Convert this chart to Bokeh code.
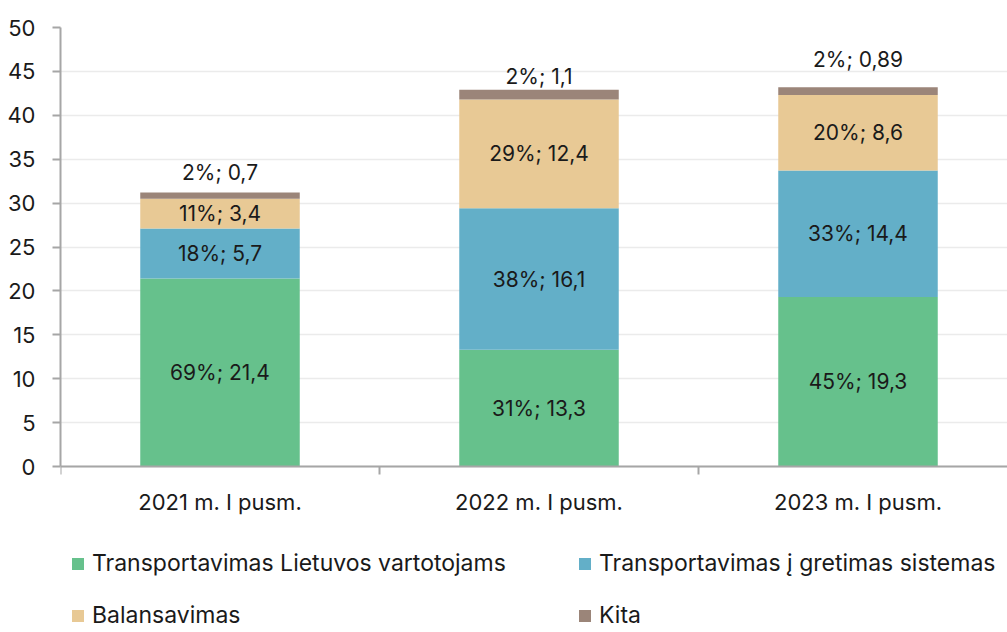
from bokeh.plotting import figure
from bokeh.models import (ColumnDataSource, Range1d, FixedTicker, Legend, LegendItem, Span)
from bokeh.core.properties import value
from bokeh.embed import file_html
from bokeh.resources import INLINE

categories = ["2021 m. I pusm.", "2022 m. I pusm.", "2023 m. I pusm."]
series_names = ["Transportavimas Lietuvos vartotojams", "Transportavimas į gretimas sistemas",
                "Balansavimas", "Kita"]
lt_consumers = [21.4, 13.3, 19.3]
neighbours = [5.7, 16.1, 14.4]
balancing = [3.4, 12.4, 8.6]
other = [0.7, 1.1, 0.89]
pct_lt = [69, 31, 45]
pct_nb = [18, 38, 33]
pct_bal = [11, 29, 20]
pct_other = [2, 2, 2]
y_ticks = [0, 5, 10, 15, 20, 25, 30, 35, 40, 45, 50]

colors = ["#66c18c", "#63afc8", "#e8c995", "#9b8579"]
AXIS = "#a6a6a6"
FONT = "Inter"
TXT = "#1a1a1a"
FS = "22px"
top_label_offsets = [-20, -13, -28]   # pixel offsets of the "Kita" labels above the bars

xs = [0.5, 1.5, 2.5]
cat_bounds = [0, 1, 2, 3]
keys = ["lt", "nb", "bal", "oth"]
series = [lt_consumers, neighbours, balancing, other]
pcts = [pct_lt, pct_nb, pct_bal, pct_other]

W, H = 1007, 632
TOP, LEFT = 27, 60
AXIS_Y = 466
YMAX = 50
ppu = (AXIS_Y - TOP) / YMAX
ymin = -(H - AXIS_Y) / ppu

src = ColumnDataSource(dict(x=xs, lt=lt_consumers, nb=neighbours, bal=balancing, oth=other))

p = figure(width=W, height=H, output_backend="svg", toolbar_location=None,
           x_range=Range1d(0, (W - LEFT) / 319.0), y_range=Range1d(ymin, YMAX),
           x_axis_location=None,
           min_border_left=LEFT, min_border_right=0, min_border_top=TOP, min_border_bottom=0)
p.outline_line_color = None
p.background_fill_color = "white"

p.xgrid.grid_line_color = None
p.ygrid.ticker = FixedTicker(ticks=y_ticks)
p.ygrid.grid_line_color = "#ebebeb"
p.ygrid.grid_line_width = 1.5

renderers = p.vbar_stack(keys, x="x", width=0.5, source=src, color=colors, line_color=None)

p.add_layout(Span(location=0, dimension="width", line_color=AXIS, line_width=2))
p.segment(x0=cat_bounds, y0=[0] * 4, x1=cat_bounds, y1=[-8 / ppu] * 4, line_color=AXIS, line_width=2)
p.text(x=xs, y=[0] * 3, text=categories, text_align="center", text_baseline="middle", y_offset=35,
       text_font=value(FONT), text_font_size=FS, text_color=TXT)

def fmt(v):
    return ("%g" % v).replace(".", ",")

lab_x, lab_y, lab_t = [], [], []
for i in range(3):
    base = 0.0
    for k in range(3):
        v = series[k][i]
        lab_x.append(xs[i])
        lab_y.append(base + v / 2)
        lab_t.append(f"{pcts[k][i]}%; {fmt(v)}")
        base += v
p.text(x=lab_x, y=lab_y, text=lab_t, text_align="center", text_baseline="middle",
       text_font=value(FONT), text_font_size="21px", text_color=TXT)

top_src = ColumnDataSource(dict(
    x=xs,
    y=[sum(s[i] for s in series) for i in range(3)],
    t=[f"{pct_other[i]}%; {fmt(other[i])}" for i in range(3)],
    off=top_label_offsets))
p.text(x="x", y="y", text="t", source=top_src, text_align="center", text_baseline="middle",
       y_offset="off", text_font=value(FONT), text_font_size="21px", text_color=TXT)

p.yaxis.ticker = FixedTicker(ticks=y_ticks)
p.yaxis.bounds = (0, YMAX)
p.yaxis.axis_line_color = AXIS
p.yaxis.axis_line_width = 2
p.yaxis.major_tick_line_color = AXIS
p.yaxis.major_tick_line_width = 2
p.yaxis.major_tick_out = 8
p.yaxis.major_tick_in = 0
p.yaxis.minor_tick_line_color = None
p.yaxis.major_label_standoff = 17
p.yaxis.major_label_text_font = FONT
p.yaxis.major_label_text_font_size = FS
p.yaxis.major_label_text_color = TXT

items = [LegendItem(label=series_names[k], renderers=[renderers[k]]) for k in range(4)]
legend = Legend(items=items, orientation="horizontal", ncols=2, location=(10, 3),
                glyph_width=15, glyph_height=15, label_height=24, label_width=461,
                label_standoff=7, spacing=24, padding=0, margin=0,
                border_line_color=None, background_fill_alpha=0,
                label_text_font=FONT, label_text_font_size="23px", label_text_color=TXT)
p.add_layout(legend, "center")

open("out.html", "w").write(file_html(p, INLINE))
